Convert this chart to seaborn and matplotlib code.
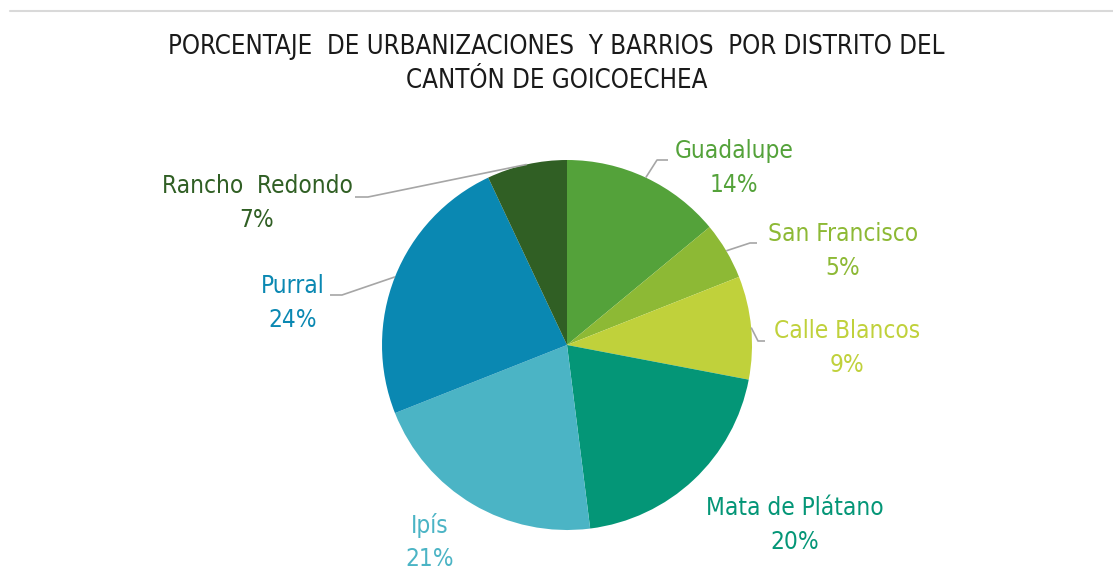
import numpy as np
import matplotlib.pyplot as plt
import seaborn as sns
from matplotlib.lines import Line2D

sns.set_theme(style="white")
plt.rcParams['font.family'] = ['Liberation Sans Narrow', 'DejaVu Sans']
plt.rcParams['font.stretch'] = 'condensed'

# datos
distritos = ['Guadalupe', 'San Francisco', 'Calle Blancos', 'Mata de Plátano',
             'Ipís', 'Purral', 'Rancho  Redondo']
porcentajes = [14, 5, 9, 20, 21, 24, 7]
colores = ['#54A23A', '#8DB935', '#C0D13B', '#049677', '#4BB4C5', '#0A88B2', '#305F24']

W, H = 1113, 578
fig = plt.figure(figsize=(W / 100, H / 100), dpi=100)
ax = fig.add_axes([0, 0, 1, 1])

cx, cy, r = 567, H - 345, 185
wedges, _ = ax.pie(porcentajes, colors=colores, startangle=90, counterclock=False,
                   center=(cx, cy), radius=r, frame=True,
                   wedgeprops=dict(linewidth=0))
ax.set_xlim(0, W)
ax.set_ylim(0, H)
ax.set_aspect('equal')
ax.axis('off')

# posicion de las etiquetas (pixeles, y desde arriba) y codo de la linea guia
pos_etiquetas = [(734, 168), (843, 251), (847, 348), (795, 525), (430, 542), (293, 303), (257, 203)]
codos = [((657, 160), (668, 160)), ((750, 243), (757, 243)), ((758, 341), (765, 341)),
         None, None, ((342, 295), (330, 295)), ((368, 197), (355, 197))]

for w, nombre, p, col, (tx, ty), codo in zip(wedges, distritos, porcentajes, colores,
                                              pos_etiquetas, codos):
    ax.text(tx, H - ty, f"{nombre}\n{p}%", ha='center', va='center', color=col,
            fontsize=17.5, linespacing=1.5)
    if codo is not None:
        ang = np.deg2rad((w.theta1 + w.theta2) / 2)
        x0, y0 = cx + r * np.cos(ang), cy + r * np.sin(ang)
        (x1, y1), (x2, y2) = codo
        ax.plot([x0, x1, x2], [y0, H - y1, H - y2], color='#A6A6A6', lw=1.2,
                solid_capstyle='butt')

fig.text(0.5, 1 - 64 / H,
         "PORCENTAJE  DE URBANIZACIONES  Y BARRIOS  POR DISTRITO DEL\nCANTÓN DE GOICOECHEA",
         ha='center', va='center', fontsize=18.5, color='#1a1a1a', linespacing=1.4)

fig.add_artist(Line2D([10 / W, 1], [1 - 11 / H, 1 - 11 / H], color='#D9D9D9', lw=1.5))

fig.savefig('out.png', dpi=100, facecolor='white')
